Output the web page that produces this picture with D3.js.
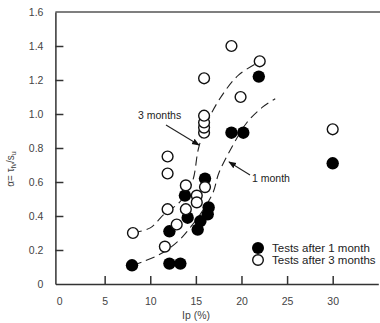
<!DOCTYPE html>
<html><head><meta charset="utf-8">
<script src="https://cdn.jsdelivr.net/npm/d3@7"></script>
<style>body{margin:0;background:#fff}svg{display:block;font-family:"Liberation Sans",Arial,sans-serif}</style>
</head><body><svg id="c" width="380" height="323"></svg>
<script>
// Data (Ip %, alpha)
const oneMonthIp    = [8, 12.1, 13.3, 12.1, 13.8, 14.1, 15.5, 15.2, 16.0, 16.4, 16.3, 18.9, 20.2, 21.9, 30.0];
const oneMonthAlpha = [0.11, 0.12, 0.12, 0.31, 0.52, 0.39, 0.37, 0.32, 0.62, 0.45, 0.41, 0.89, 0.89, 1.22, 0.71];
const threeMonthIp    = [8.1, 11.6, 11.9, 11.9, 11.9, 12.9, 13.9, 13.9, 15.1, 15.1, 16.0, 15.9, 15.9, 15.9, 15.9, 15.9, 18.9, 19.9, 22.0, 30.0];
const threeMonthAlpha = [0.30, 0.22, 0.44, 0.65, 0.75, 0.35, 0.58, 0.44, 0.52, 0.48, 0.57, 0.89, 0.92, 0.95, 0.99, 1.21, 1.40, 1.10, 1.31, 0.91];
// trend curves (dashed)
const trend1Ip    = [8.1, 9.1, 10.9, 12.1, 13.4, 14.5, 15.6, 16.9, 17.5, 19.0, 20.6, 22.3, 23.7];
const trend1Alpha = [0.11, 0.13, 0.17, 0.21, 0.27, 0.34, 0.42, 0.54, 0.65, 0.81, 0.95, 1.04, 1.09];
const trend3Ip    = [8.1, 10.0, 11.5, 13.2, 14.6, 15.3, 16.4, 18.0, 19.7, 21.7];
const trend3Alpha = [0.30, 0.33, 0.41, 0.48, 0.60, 0.80, 0.97, 1.12, 1.23, 1.30];
const xTicks = [0, 5, 10, 15, 20, 25, 30];
const yTicks = [0, 0.2, 0.4, 0.6, 0.8, 1.0, 1.2, 1.4, 1.6];
const legendLabels = ["Tests after 1 month", "Tests after 3 months"];

const svg = d3.select("#c");
const x = d3.scaleLinear().domain([-0.4, 35]).range([55.4, 378.3]);
const y = d3.scaleLinear().domain([0, 1.6]).range([284, 12]);
const axisCol = "#333", textCol = "#444";

// axes frame
svg.append("line").attr("x1", x(-0.4)).attr("x2", 380).attr("y1", y(1.6)).attr("y2", y(1.6)).attr("stroke", "#555").attr("stroke-width", 1.5);
const gx = svg.append("g").attr("transform", `translate(0,${y(0)})`)
  .call(d3.axisBottom(x).tickValues(xTicks).tickSize(-8).tickSizeOuter(0).tickPadding(14).tickFormat(d3.format("d")));
const gy = svg.append("g").attr("transform", `translate(${x(-0.4)},0)`)
  .call(d3.axisLeft(y).tickValues(yTicks).tickSize(-8).tickSizeOuter(0).tickPadding(12).tickFormat(d => d === 0 ? "0" : d3.format(".1f")(d)));
[gx, gy].forEach(g => {
  g.select(".domain").attr("stroke", axisCol).attr("stroke-width", 1.5);
  g.selectAll(".tick line").attr("stroke", axisCol).attr("stroke-width", 1.5);
  g.selectAll(".tick text").attr("fill", textCol).attr("font-size", 10.5).attr("font-family", "Liberation Sans, Arial, sans-serif");
});
gx.selectAll(".tick").filter(d => d === 0).select("line").remove();
gy.selectAll(".tick").filter(d => d === 0 || d === 1.6).select("line").remove();

// axis titles
svg.append("text").attr("x", 196).attr("y", 319).attr("text-anchor", "middle").attr("font-size", 10.5).attr("fill", textCol).text("Ip (%)");
const yl = svg.append("text").attr("transform", "translate(14,169) rotate(-90)").attr("text-anchor", "middle").attr("font-size", 10).attr("fill", textCol);
yl.append("tspan").text("α= τ");
yl.append("tspan").attr("font-size", 7).attr("dy", 2).text("fv");
yl.append("tspan").attr("dy", -2).text("/s");
yl.append("tspan").attr("font-size", 7).attr("dy", 2).text("u");

// trend lines
const line = d3.line().x(d => x(d[0])).y(d => y(d[1])).curve(d3.curveCatmullRom);
svg.append("path").attr("d", line(d3.zip(trend1Ip, trend1Alpha))).attr("fill", "none").attr("stroke", "#222").attr("stroke-width", 1.1).attr("stroke-dasharray", "9,5");
svg.append("path").attr("d", line(d3.zip(trend3Ip, trend3Alpha))).attr("fill", "none").attr("stroke", "#222").attr("stroke-width", 1.1).attr("stroke-dasharray", "9,5");

// points
svg.append("g").selectAll("circle").data(d3.zip(oneMonthIp, oneMonthAlpha)).join("circle")
  .attr("cx", d => x(d[0])).attr("cy", d => y(d[1])).attr("r", 6.2).attr("fill", "#000");
svg.append("g").selectAll("circle").data(d3.zip(threeMonthIp, threeMonthAlpha)).join("circle")
  .attr("cx", d => x(d[0])).attr("cy", d => y(d[1])).attr("r", 5.4).attr("fill", "#fff").attr("stroke", "#111").attr("stroke-width", 1.4);

// annotations
svg.append("defs").append("marker").attr("id", "ah").attr("viewBox", "0 0 10 10").attr("refX", 9).attr("refY", 5)
  .attr("markerWidth", 7).attr("markerHeight", 7).attr("orient", "auto")
  .append("path").attr("d", "M0,1 L10,5 L0,9 Z").attr("fill", "#111");
svg.append("text").attr("x", 138).attr("y", 119).attr("font-size", 10.5).attr("fill", "#222").text("3 months");
svg.append("line").attr("x1", 166).attr("y1", 125).attr("x2", 199).attr("y2", 145).attr("stroke", "#222").attr("stroke-width", 1.1).attr("marker-end", "url(#ah)");
svg.append("text").attr("x", 252).attr("y", 182).attr("font-size", 10.5).attr("fill", "#222").text("1 month");
svg.append("line").attr("x1", 250).attr("y1", 175).attr("x2", 229).attr("y2", 162).attr("stroke", "#222").attr("stroke-width", 1.1).attr("marker-end", "url(#ah)");

// legend
const lg = svg.append("g");
lg.append("circle").attr("cx", 258).attr("cy", 248).attr("r", 6).attr("fill", "#000");
lg.append("circle").attr("cx", 258).attr("cy", 260).attr("r", 5.3).attr("fill", "#fff").attr("stroke", "#111").attr("stroke-width", 1.4);
lg.selectAll("text").data(legendLabels).join("text").attr("x", 272).attr("y", (d, i) => 252 + i * 12)
  .attr("font-size", 11.5).attr("fill", "#222").text(d => d);
</script></body></html>
